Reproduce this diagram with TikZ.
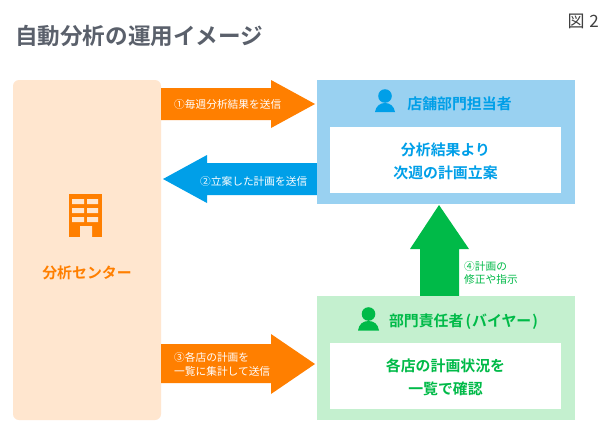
\documentclass[tikz,border=0pt]{standalone}
\usepackage{fontspec}
\setmainfont{Noto Sans CJK JP}
\newfontfamily\jpb{Noto Sans CJK JP Bold}
\newfontfamily\jpr{Noto Sans CJK JP}
\definecolor{orangeA}{HTML}{FF7F00}
\definecolor{peach}{HTML}{FFE6CF}
\definecolor{blueA}{HTML}{009FE8}
\definecolor{blueL}{HTML}{99D1F1}
\definecolor{greenA}{HTML}{00BA48}
\definecolor{greenL}{HTML}{C4F0CF}
\definecolor{titleC}{HTML}{5A606B}
\tikzset{
 x=1pt,y=-1pt,
 lbl/.style={inner sep=0pt,align=center,font=\jpb\fontsize{14.9}{23}\selectfont,text=#1},
 armtext/.style={inner sep=0pt,align=left,text=white,font=\jpr\fontsize{10.7}{14}\selectfont},
}
\begin{document}
\begin{tikzpicture}
\useasboundingbox (0,0) rectangle (608,447);
\fill[white] (0,0) rectangle (608,447);
\node[anchor=west,inner sep=0pt,text=titleC,font=\jpb\fontsize{22.6}{23}\selectfont] (title) at (15,36) {自動分析の運用イメージ};
\node[anchor=east,inner sep=0pt,text=black!75,font=\jpr\fontsize{17}{18}\selectfont] (fig) at (599,21) {図\kern1pt{} 2};
% centre
\fill[peach,rounded corners=6] (13,80) rectangle (161,420);
\fill[orangeA] (69,194) rectangle (102,237);
\fill[peach] (72,199) rectangle (84,204) (87,199) rectangle (98,204)
             (72,208) rectangle (84,213) (87,208) rectangle (98,213)
             (72,217) rectangle (84,222) (87,217) rectangle (98,222)
             (80,226) rectangle (92,237);
\node[lbl=orangeA] (center) at (87,273) {分析センター};
% arrows
\fill[orangeA] (161,88) -- (271,88) -- (271,80) -- (315,104) -- (271,128) -- (271,120) -- (161,120) -- cycle;
\node[armtext,anchor=west] (a1) at (174,104) {①毎週分析結果を送信};
\fill[blueA] (317,163) -- (207,163) -- (207,155) -- (163,179) -- (207,203) -- (207,195) -- (317,195) -- cycle;
\node[armtext,anchor=west] (a2) at (200,181) {②立案した計画を送信};
\fill[orangeA] (161,344) -- (271,344) -- (271,334) -- (315,364) -- (271,394) -- (271,383) -- (161,383) -- cycle;
\node[armtext,anchor=west] (a3) at (174,364) {③各店の計画を\\一覧に集計して送信};
\fill[greenA] (420,296) -- (420,249) -- (410,249) -- (439,205) -- (469,249) -- (459,249) -- (459,296) -- cycle;
\node[armtext,anchor=west,text=greenA,font=\jpr\fontsize{10.7}{13}\selectfont] (a4) at (464,273) {④計画の\\修正や指示};
% blue box
\fill[blueL] (317,80) rectangle (575,204);
\fill[white] (330,127) rectangle (561,193);
\fill[blueA] (385,96) circle (6.8);
\fill[blueA] (375,112) .. controls (376,106) and (380,103) .. (385,103) .. controls (390,103) and (394,106) .. (395,112) -- cycle;
\node[lbl=blueA] (b1) at (459.5,104) {店舗部門担当者};
\node[lbl=blueA] (b2) at (445.5,161) {分析結果より\\次週の計画立案};
% green box
\fill[greenL] (317,296) rectangle (575,420);
\fill[white] (330,343) rectangle (561,409);
\fill[greenA] (368.5,314) circle (6.8);
\fill[greenA] (358,330.5) .. controls (359,324) and (363,321) .. (368.5,321) .. controls (374,321) and (378,324) .. (379,330.5) -- cycle;
\node[lbl=greenA] (g1) at (463.5,322) {部門責任者\kern2pt(\kern1pt{}バイヤー\kern1pt{})};
\node[lbl=greenA] (g2) at (445.5,377) {各店の計画状況を\\一覧で確認};
\end{tikzpicture}
\end{document}
